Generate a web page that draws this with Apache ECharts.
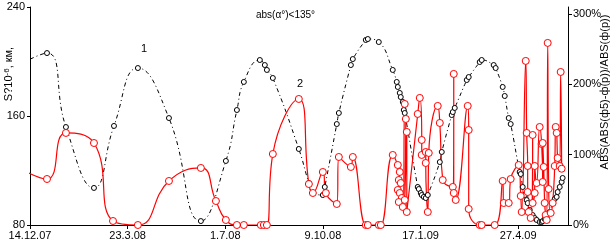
<!DOCTYPE html>
<html>
<head>
<meta charset="utf-8">
<script src="https://cdn.jsdelivr.net/npm/echarts@6/dist/echarts.min.js"></script>
<style>
  html, body { margin: 0; padding: 0; background: #fff; }
  #main { width: 613px; height: 244px; }
</style>
</head>
<body>
<div id="main"></div>
<script>
// x = days since 14.12.07
const dateLabels = ['14.12.07', '23.3.08', '1.7.08', '9.10.08', '17.1.09', '27.4.09'];
const dateTicks = [0, 100, 200, 300, 400, 500];
const leftTicks = [80, 160, 240];
const rightTicks = [0, 100, 200, 300];

// curve 1 (S, left axis)
const days1 = [-10, 17.4, 36.8, 65.5, 86, 110.5, 142.3, 175, 200.6, 211.9, 219, 235.4, 240.5, 242.6, 248.7, 275.3, 285.6, 289.7, 299.9, 301.9, 314.2, 316.3, 328.6, 330.6, 343.9, 346, 357.2, 371.5, 375.6, 376.7, 378.7, 379.7, 381.8, 382.8, 383.8, 397.1, 398.2, 400.2, 401.2, 403.3, 405.3, 407.4, 419.7, 421.7, 431.9, 433, 435, 447.3, 449.3, 460.6, 462.6, 474.9, 476.9, 484.1, 486.2, 490.3, 492.3, 501.5, 502.6, 504.6, 506.7, 508.7, 509.7, 511.8, 514.8, 516.9, 518.9, 522, 524, 525.1, 527.1, 529.2, 532.2, 535.3, 537.4, 539.4, 540.4, 542.5, 544.5, 545.5];
const vals1 = [198, 206.2, 151.9, 107.2, 152.7, 195.2, 158.5, 82.9, 127, 164.4, 185, 201.1, 197.4, 193.8, 187.9, 135.8, 110.8, 103.5, 102, 107.9, 154.1, 162.2, 197.4, 201.8, 215.8, 216.5, 214.3, 193.8, 185, 181.3, 176.9, 173.9, 170.3, 164.4, 162.2, 107.9, 106.4, 103.5, 102, 100.6, 99.8, 102, 126.2, 133.6, 160.7, 162.9, 165.9, 186.4, 188.6, 199.6, 201.1, 197.4, 195.2, 181.3, 174.7, 158.5, 154.1, 118.9, 117.4, 107.9, 102, 98.3, 96.1, 91, 87.3, 85.1, 83.7, 82.2, 82.2, 82.9, 84.4, 85.1, 89.5, 96.1, 99.1, 100.6, 104.2, 107.9, 111.6, 114.5];

// curve 2 (relative error, right axis, %)
const days2 = [-12, 17.4, 36.8, 65.5, 85, 110.5, 142.3, 175, 190.4, 200.6, 211.9, 219, 236.4, 239.5, 242.6, 248.7, 275.3, 285.6, 289.7, 299.9, 303, 314.2, 316.3, 328.6, 330.6, 343.9, 346, 357.2, 359.3, 371.5, 376.7, 378.7, 377.7, 379.7, 376.7, 378.7, 380.8, 377.7, 381.8, 383.8, 384.9, 383.8, 385.9, 385.9, 397.1, 399.2, 401.2, 401.2, 405.3, 405.3, 407.4, 408.4, 417.6, 419.7, 422.7, 433, 434, 434, 436, 448.3, 449.3, 449.3, 460.6, 462.6, 475.9, 484.1, 485.2, 490.3, 492.3, 500.5, 502.6, 503.6, 507.7, 508.7, 509.7, 509.7, 510.7, 512.8, 514.8, 514.8, 516.9, 516.9, 518.9, 522, 524, 525.1, 525.1, 526.1, 527.1, 528.1, 529.2, 530.2, 531.2, 533.3, 535.3, 537.4, 538.4, 539.4, 540.4, 542.5, 543.5, 544.5];
const vals2 = [82, 65.4, 130.9, 116.6, 5.7, 0, 62.6, 81.1, 34.1, 7.1, 0, 0, 0, 0, 0, 101, 179.2, 58.3, 45.5, 75.4, 45.5, 29.9, 96.7, 82.5, 96.7, 0, 0, 0, 0, 99.6, 85.3, 75.4, 64, 59.7, 49.8, 45.5, 38.4, 32.7, 25.6, 172.1, 150.8, 35.6, 132.3, 18.5, 157.9, 180.7, 120.9, 99.6, 103.8, 88.2, 18.5, 102.4, 169.3, 145.1, 64, 54.1, 214.8, 45.5, 35.6, 169.3, 135.1, 22.8, 0, 0, 0, 62.6, 31.3, 31.3, 65.4, 85.3, 41.3, 18.5, 233.3, 130.9, 83.9, 46.9, 18.5, 10, 128, 31.3, 45.5, 83.9, 59.7, 139.4, 115.2, 61.2, 116.6, 82.5, 31.3, 14.2, 7.1, 258.9, 51.2, 17.1, 31.3, 83.9, 139.4, 130.9, 95.3, 83.9, 217.6, 80];

const font = 'Liberation Sans, Arial, sans-serif';

function zip(a, b) {
  return a.map((d, i) => [d, b[i]]);
}

const dom = document.getElementById('main');
const myChart = echarts.init(dom, null, { renderer: 'canvas' });

const axisBase = {
  axisLine: { show: true, lineStyle: { color: '#000', width: 1 } },
  axisTick: { show: true, length: 3, lineStyle: { color: '#000' } },
  splitLine: { show: false },
  axisLabel: { color: '#000', fontFamily: font, fontSize: 11 }
};

const option = {
  animation: false,
  backgroundColor: '#fff',
  grid: { left: 30, right: 45, top: 7, bottom: 19, containLabel: false },
  title: {
    text: 'abs(α°)<135°',
    left: 251,
    top: 5,
    textStyle: { fontFamily: font, fontSize: 10, fontWeight: 'normal', color: '#000' }
  },
  xAxis: {
    type: 'value',
    min: 0,
    max: 551,
    ...axisBase,
    axisTick: { show: true, length: 4, lineStyle: { color: '#000' }, customValues: dateTicks },
    axisLabel: {
      color: '#000', fontFamily: font, fontSize: 11, margin: 5,
      customValues: dateTicks,
      formatter: v => dateLabels[Math.round(v / 100)] || ''
    }
  },
  yAxis: [
    {
      type: 'value',
      min: 80,
      max: 240,
      interval: 80,
      position: 'left',
      ...axisBase,
      axisTick: { show: true, length: 3, lineStyle: { color: '#000' }, customValues: leftTicks },
      axisLabel: { color: '#000', fontFamily: font, fontSize: 11, margin: 5, customValues: leftTicks }
    },
    {
      type: 'value',
      min: 0,
      max: 310,
      position: 'right',
      ...axisBase,
      axisTick: { show: true, length: 4, lineStyle: { color: '#000' }, customValues: rightTicks },
      axisLabel: {
        color: '#000', fontFamily: font, fontSize: 11, margin: 5,
        customValues: rightTicks,
        formatter: '{value}%'
      }
    }
  ],
  graphic: [
    {
      type: 'text',
      x: 9, y: 74, rotation: Math.PI / 2,
      style: {
        text: 'S?10{s|-6}, км,',
        fontFamily: font, fontSize: 11, fill: '#000',
        align: 'center', verticalAlign: 'middle',
        rich: { s: { fontSize: 8, fontFamily: font, verticalAlign: 'top', padding: [0, 0, 5, 0] } }
      }
    },
    {
      type: 'text',
      x: 605, y: 92, rotation: Math.PI / 2,
      style: {
        text: 'ABS(ABS(ф5)-ф(р))/ABS(ф(р))',
        fontFamily: font, fontSize: 11, fill: '#000',
        align: 'center', verticalAlign: 'middle'
      }
    },
    {
      type: 'text', x: 141, y: 43,
      style: { text: '1', fontFamily: font, fontSize: 11, fill: '#000' }
    },
    {
      type: 'text', x: 297, y: 78,
      style: { text: '2', fontFamily: font, fontSize: 11, fill: '#000' }
    }
  ],
  series: [
    {
      name: '1',
      type: 'line',
      yAxisIndex: 0,
      data: zip(days1, vals1),
      smooth: 0.5,
      symbol: 'circle',
      symbolSize: 5,
      showAllSymbol: true,
      lineStyle: { color: '#000', width: 1, type: [4, 3, 1, 3] },
      itemStyle: { color: '#fff', borderColor: '#000', borderWidth: 1 },
      clip: true
    },
    {
      name: '2',
      type: 'line',
      yAxisIndex: 1,
      data: zip(days2, vals2),
      smooth: 0.5,
      symbol: 'circle',
      symbolSize: 7,
      showAllSymbol: true,
      lineStyle: { color: '#ff0000', width: 1.2 },
      itemStyle: { color: '#fff', borderColor: '#ff0000', borderWidth: 1 },
      clip: true
    }
  ]
};

myChart.setOption(option, true);
</script>
</body>
</html>
